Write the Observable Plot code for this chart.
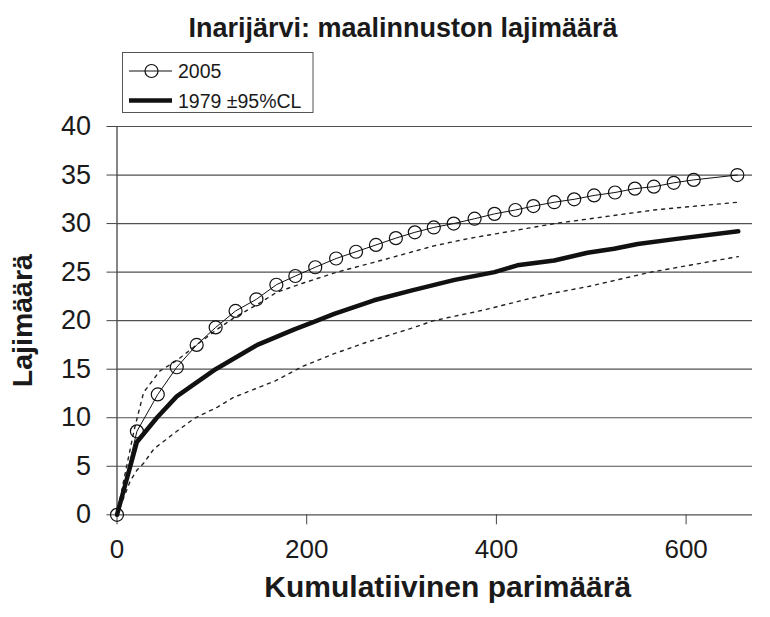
<!DOCTYPE html>
<html><head><meta charset="utf-8">
<script src="https://cdn.jsdelivr.net/npm/d3@7"></script>
<script src="https://cdn.jsdelivr.net/npm/@observablehq/plot@0.6"></script>
<style>
body{margin:0;background:#fff;}
#wrap{position:relative;width:770px;height:617px;}
#wrap svg{position:absolute;left:0;top:0;}
#overlay{pointer-events:none;}
</style>
</head><body>
<div id="wrap"></div>
<script>
// 2005 survey (circles)
const x2005 = [0, 21, 43, 63, 84, 104, 125, 147, 168, 188, 209, 231, 252, 273, 294, 314, 334, 355, 377, 398, 420, 439, 461, 482, 503, 525, 546, 566, 587, 608, 654];
const y2005 = [0, 8.6, 12.4, 15.2, 17.5, 19.3, 21.0, 22.2, 23.7, 24.6, 25.5, 26.4, 27.1, 27.8, 28.5, 29.1, 29.6, 30.0, 30.5, 31.0, 31.4, 31.8, 32.2, 32.5, 32.9, 33.2, 33.6, 33.8, 34.2, 34.5, 35.0];
// 1979 mean
const x1979 = [0, 21, 42, 63, 104, 148, 187, 211, 229, 271, 310, 356, 398, 422, 461, 496, 524, 549, 588, 655];
const y1979 = [0, 7.5, 10.0, 12.2, 15.0, 17.5, 19.1, 20.0, 20.7, 22.1, 23.1, 24.2, 25.0, 25.7, 26.2, 27.0, 27.4, 27.9, 28.4, 29.2];
// 1979 upper 95% CL
const xUpper = [0, 7, 18, 28, 45, 63, 84, 104, 125, 147, 168, 194, 232, 282, 334, 370, 426, 461, 514, 566, 655];
const yUpper = [0, 3.5, 8.7, 12.6, 14.8, 15.9, 17.5, 19.0, 20.4, 21.6, 22.9, 23.8, 25.0, 26.3, 27.7, 28.45, 29.4, 30.0, 30.7, 31.4, 32.2];
// 1979 lower 95% CL
const xLower = [0, 14, 21, 28, 39, 63, 81, 106, 123, 167, 196, 229, 264, 310, 334, 387, 436, 458, 496, 563, 655];
const yLower = [0, 3.5, 4.6, 5.3, 6.8, 8.6, 9.9, 11.1, 12.1, 13.8, 15.3, 16.6, 17.8, 19.2, 20.0, 21.1, 22.3, 22.8, 23.5, 25.0, 26.6];

const xTicks = [0, 200, 400, 600];
const yTicks = [0, 5, 10, 15, 20, 25, 30, 35, 40];
const titleText = "Inarijärvi: maalinnuston lajimäärä";
const xLabel = "Kumulatiivinen parimäärä";
const yLabel = "Lajimäärä";
const legendLabels = ["2005", "1979 ±95%CL"];

const zip = (xs, ys) => xs.map((x, i) => ({x, y: ys[i]}));
const s2005 = zip(x2005, y2005);
const s1979 = zip(x1979, y1979);
const sUp = zip(xUpper, yUpper);
const sLo = zip(xLower, yLower);

const font = '"Liberation Sans", Arial, sans-serif';

const chart = Plot.plot({
  width: 770, height: 617,
  marginLeft: 116.5, marginRight: 18, marginTop: 126, marginBottom: 102.7,
  style: {fontFamily: font, color: "#1a1a1a", background: "white", overflow: "visible"},
  x: {domain: [0, 670]},
  y: {domain: [0, 40]},
  marks: [
    Plot.gridY(yTicks, {stroke: "#505050", strokeOpacity: 1, strokeWidth: 1.2}),
    Plot.ruleX([0], {stroke: "#444", strokeWidth: 1.3}),
    Plot.axisY(yTicks, {tickSize: 10, tickPadding: 16, fontSize: 27, label: null, stroke: "#444"}),
    Plot.axisX(xTicks, {tickSize: 10, tickPadding: 15, fontSize: 26, label: null, stroke: "#444"}),
    Plot.line(sUp, {x: "x", y: "y", stroke: "#222", strokeWidth: 1.4, strokeDasharray: "3,5"}),
    Plot.line(sLo, {x: "x", y: "y", stroke: "#222", strokeWidth: 1.4, strokeDasharray: "3,5"}),
    Plot.line(s1979, {x: "x", y: "y", stroke: "#111", strokeWidth: 4.5, strokeLinejoin: "round"}),
    Plot.line(s2005, {x: "x", y: "y", stroke: "#111", strokeWidth: 1}),
    Plot.dot(s2005, {x: "x", y: "y", r: 6.5, stroke: "#111", strokeWidth: 1.2, fill: "none"}),
    Plot.text([xLabel], {frameAnchor: "bottom", dx: 13, dy: 82, fontSize: 30, fontWeight: "bold", fill: "#1a1a1a"}),
    Plot.text([yLabel], {frameAnchor: "left", textAnchor: "middle", dx: -94, rotate: -90, fontSize: 28.5, fontWeight: "bold", fill: "#1a1a1a"})
  ]
});
document.getElementById("wrap").appendChild(chart);

// Title and legend overlay
const ov = d3.select("#wrap").append("svg").attr("id", "overlay")
  .attr("width", 770).attr("height", 617).style("font-family", font);
ov.append("text").attr("x", 403).attr("y", 37).attr("text-anchor", "middle")
  .attr("font-size", 27).attr("font-weight", "bold").attr("fill", "#1a1a1a").text(titleText);
const lg = ov.append("g");
lg.append("rect").attr("x", 122.5).attr("y", 52.5).attr("width", 190.5).attr("height", 60)
  .attr("fill", "white").attr("stroke", "#555").attr("stroke-width", 1);
lg.append("line").attr("x1", 129).attr("x2", 172).attr("y1", 71).attr("y2", 71)
  .attr("stroke", "#111").attr("stroke-width", 1);
lg.append("circle").attr("cx", 151.5).attr("cy", 71).attr("r", 6.5)
  .attr("fill", "none").attr("stroke", "#111").attr("stroke-width", 1.2);
lg.append("line").attr("x1", 129).attr("x2", 172).attr("y1", 100.5).attr("y2", 100.5)
  .attr("stroke", "#111").attr("stroke-width", 4.5);
lg.append("text").attr("x", 178).attr("y", 78).attr("font-size", 19.5).attr("fill", "#1a1a1a").text(legendLabels[0]);
lg.append("text").attr("x", 178).attr("y", 107.5).attr("font-size", 19.5).attr("fill", "#1a1a1a").text(legendLabels[1]);
</script>
</body></html>
